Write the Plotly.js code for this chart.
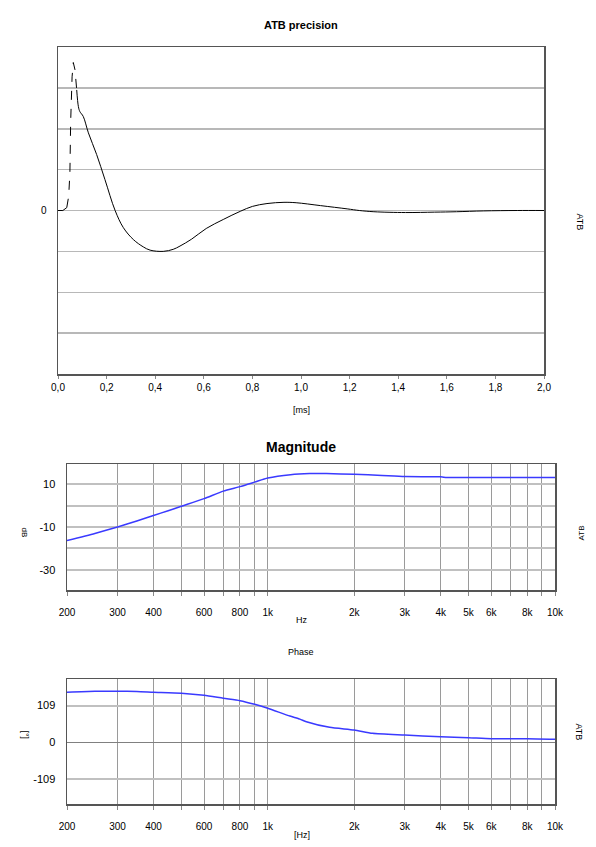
<!DOCTYPE html>
<html>
<head>
<meta charset="utf-8">
<script src="https://cdn.plot.ly/plotly-3.0.1.min.js"></script>
<style>html,body{margin:0;padding:0;background:#fff;}#chart{width:596px;height:847px;}</style>
</head>
<body>
<div id="chart"></div>
<script>
// Impulse response (time in ms, arbitrary amplitude units)
const timeSolidA = [0, 0.02, 0.036];
const valSolidA  = [0, 0, 0.07];
const timeDashed = [0.036, 0.044, 0.049, 0.052, 0.058, 0.063, 0.070, 0.077];
const valDashed  = [0.07, 0.35, 0.93, 2.15, 3.27, 3.62, 3.44, 2.95];
const timeSolidB = [0.077, 0.084, 0.09, 0.104, 0.125, 0.159, 0.193, 0.235, 0.269, 0.31, 0.351, 0.379, 0.433, 0.474, 0.502, 0.55, 0.61, 0.68, 0.75, 0.80, 0.86, 0.93, 0.98, 1.08, 1.19, 1.24, 1.30, 1.43, 1.55, 1.64, 1.75, 1.89, 2.0];
const valSolidB  = [2.95, 2.54, 2.42, 2.3, 1.9, 1.37, 0.76, 0, -0.42, -0.71, -0.89, -0.97, -1.0, -0.95, -0.87, -0.7, -0.44, -0.22, -0.02, 0.1, 0.17, 0.2, 0.19, 0.12, 0.04, 0, -0.03, -0.05, -0.04, -0.03, -0.01, 0, 0];
const timeTickVals = [0, 0.2, 0.4, 0.6, 0.8, 1.0, 1.2, 1.4, 1.6, 1.8, 2.0];
const timeTickText = ["0,0", "0,2", "0,4", "0,6", "0,8", "1,0", "1,2", "1,4", "1,6", "1,8", "2,0"];
const ampTickVals = [-3, -2, -1, 0, 1, 2, 3];
const ampTickText = ["", "", "", "0", "", "", ""];

// Magnitude response
const magFreq = [200, 250, 300, 350, 400, 450, 500, 600, 700, 800, 900, 1000, 1200, 1400, 1600, 2000, 2500, 3000, 4000, 4200, 5000, 6000, 8000, 10000];
const magDb   = [-16.3, -13.0, -10.0, -7.2, -4.6, -2.4, -0.3, 3.3, 6.8, 8.9, 11.0, 12.9, 14.5, 15.0, 15.0, 14.7, 14.1, 13.6, 13.5, 13.2, 13.2, 13.2, 13.2, 13.2];

// Phase response
const phFreq = [200, 250, 300, 350, 400, 500, 600, 700, 800, 900, 1000, 1194, 1294, 1363, 1642, 2000, 2316, 3000, 4000, 5000, 6000, 8000, 10000];
const phDeg  = [148.5, 151.5, 151.5, 151, 149, 146, 139.6, 130.7, 123.6, 112.9, 101, 78, 69, 61, 44.5, 36.5, 26.7, 21.7, 16.6, 13.7, 10.7, 10.7, 8.9];

const freqTickVals = [200, 300, 400, 500, 600, 700, 800, 900, 1000, 2000, 3000, 4000, 5000, 6000, 7000, 8000, 9000, 10000];
const freqTickText = ["200", "300", "400", "", "600", "", "800", "", "1k", "2k", "3k", "4k", "5k", "6k", "", "8k", "", "10k"];
const magTickVals = [-30, -20, -10, 0, 10];
const magTickText = ["-30", "", "-10", "", "10"];
const phTickVals = [-109, 0, 109];
const phTickText = ["-109", "0", "109"];

const FONT = "Liberation Sans, Arial, sans-serif";
const W = 596, H = 847;
const px = v => v / W;
const py = v => 1 - v / H;

const traces = [
  {x: timeSolidA, y: valSolidA, mode: "lines", line: {color: "#000", width: 1}, xaxis: "x", yaxis: "y", hoverinfo: "skip"},
  {x: timeDashed, y: valDashed, mode: "lines", line: {color: "#000", width: 1, dash: "dash"}, xaxis: "x", yaxis: "y", hoverinfo: "skip"},
  {x: timeSolidB, y: valSolidB, mode: "lines", line: {color: "#000", width: 1, shape: "spline", smoothing: 1}, xaxis: "x", yaxis: "y", hoverinfo: "skip"},
  {x: magFreq, y: magDb, mode: "lines", line: {color: "#3a3aff", width: 1.5, shape: "spline", smoothing: 0.6}, xaxis: "x2", yaxis: "y2", hoverinfo: "skip"},
  {x: phFreq, y: phDeg, mode: "lines", line: {color: "#3a3aff", width: 1.5, shape: "spline", smoothing: 0.6}, xaxis: "x3", yaxis: "y3", hoverinfo: "skip"}
];

const tickFont = {family: FONT, size: 10, color: "#000"};
const boxLine = {showline: true, linecolor: "#555", linewidth: 1.5, mirror: true};

const logX = (anchor, dom) => Object.assign({
  type: "log", range: [Math.log10(200), 4], domain: dom, anchor: anchor,
  tickvals: freqTickVals, ticktext: freqTickText, tickfont: tickFont,
  ticks: "outside", ticklen: 4, tickcolor: "#888",
  showgrid: true, gridcolor: "#9a9a9a", gridwidth: 1, zeroline: false, ticklabelstandoff: 8
}, boxLine);

const layout = {
  width: W, height: H,
  margin: {l: 0, r: 0, t: 0, b: 0},
  paper_bgcolor: "#fff", plot_bgcolor: "#fff",
  showlegend: false,
  font: {family: FONT, size: 10, color: "#000"},
  xaxis: Object.assign({
    domain: [px(58), px(544)], anchor: "y", range: [0, 2],
    tickvals: timeTickVals, ticktext: timeTickText, tickfont: tickFont,
    ticks: "outside", ticklen: 3, tickcolor: "#888",
    showgrid: false, zeroline: false, ticklabelstandoff: 0
  }, boxLine),
  yaxis: Object.assign({
    domain: [py(374), py(47)], anchor: "x", range: [-4, 4],
    tickvals: ampTickVals, ticktext: ampTickText, tickfont: tickFont,
    ticks: "", showgrid: true, gridcolor: "#b8b8b8", gridwidth: 1.5, zeroline: false, ticklabelstandoff: 8
  }, boxLine),
  xaxis2: logX("y2", [px(67), px(555)]),
  yaxis2: Object.assign({
    domain: [py(590), py(464)], anchor: "x2", range: [-39.5, 19.5],
    tickvals: magTickVals, ticktext: magTickText, tickfont: {family: FONT, size: 11, color: "#000"},
    ticks: "", showgrid: true, gridcolor: "#c0c0c0", gridwidth: 2, zeroline: false, ticklabelstandoff: 8
  }, boxLine),
  xaxis3: logX("y3", [px(67), px(555)]),
  yaxis3: Object.assign({
    domain: [py(804), py(679)], anchor: "x3", range: [-183, 188],
    tickvals: phTickVals, ticktext: phTickText, tickfont: {family: FONT, size: 11, color: "#000"},
    ticks: "", showgrid: true, gridcolor: "#c0c0c0", gridwidth: 2,
    zeroline: true, zerolinecolor: "#808080", zerolinewidth: 1, ticklabelstandoff: 8
  }, boxLine),
  annotations: [
    {text: "<b>ATB precision</b>", x: px(301), y: py(17), xref: "paper", yref: "paper", showarrow: false, font: {family: FONT, size: 11}},
    {text: "[ms]", x: px(301), y: py(410), xref: "paper", yref: "paper", showarrow: false, font: {family: FONT, size: 9}},
    {text: "ATB", x: px(586), y: py(211), xref: "paper", yref: "paper", showarrow: false, textangle: 90, font: {family: FONT, size: 9}},
    {text: "<b>Magnitude</b>", x: px(301), y: py(447), xref: "paper", yref: "paper", showarrow: false, font: {family: FONT, size: 14}},
    {text: "dB", x: px(18), y: py(532), xref: "paper", yref: "paper", showarrow: false, textangle: 90, font: {family: FONT, size: 8}},
    {text: "ATB", x: px(587), y: py(533), xref: "paper", yref: "paper", showarrow: false, textangle: -90, font: {family: FONT, size: 8}},
    {text: "Hz", x: px(302), y: py(627), xref: "paper", yref: "paper", showarrow: false, font: {family: FONT, size: 9}},
    {text: "Phase", x: px(301), y: py(659), xref: "paper", yref: "paper", showarrow: false, font: {family: FONT, size: 9}},
    {text: "[°]", x: px(18), y: py(741), xref: "paper", yref: "paper", showarrow: false, textangle: 90, font: {family: FONT, size: 9}},
    {text: "ATB", x: px(586), y: py(742), xref: "paper", yref: "paper", showarrow: false, textangle: 90, font: {family: FONT, size: 9}},
    {text: "[Hz]", x: px(302), y: py(842), xref: "paper", yref: "paper", showarrow: false, font: {family: FONT, size: 9}}
  ]
};

Plotly.newPlot("chart", traces, layout, {staticPlot: true, displayModeBar: false});
</script>
</body>
</html>
